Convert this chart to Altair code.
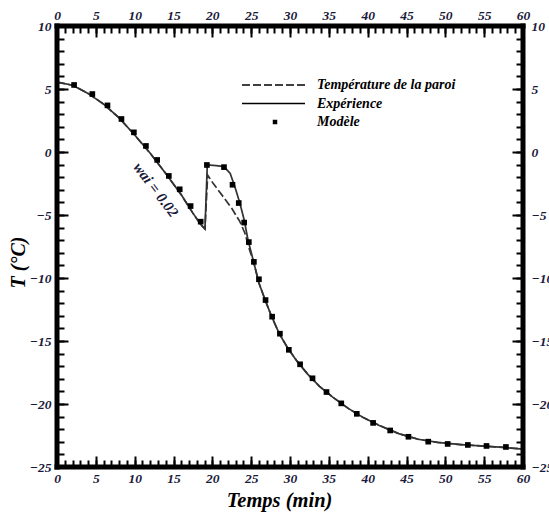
import altair as alt
import pandas as pd

# ---------------- data ----------------
exp_t = [0, 2, 4, 6, 8, 10, 12, 14, 16, 17.5, 18.5, 19.05, 19.35, 20.5, 21.5, 22.3, 22.9,
         23.55, 24.1, 24.6, 25.35, 26.0, 26.8, 27.6, 28.6, 29.7, 30.9, 32.3, 33.8, 35.5,
         37.5, 39.5, 41.5, 44, 46.5, 49, 52, 55, 57.5, 60]
exp_T = [5.55, 5.3, 4.65, 3.8, 2.7, 1.35, -0.1, -1.7, -3.4, -4.85, -5.75, -6.1, -1.03, -1.08,
         -1.16, -1.7, -2.75, -4.07, -5.4, -7.0, -8.8, -10.4, -11.75, -13.0, -14.4, -15.55,
         -16.6, -17.65, -18.6, -19.45, -20.35, -21.1, -21.7, -22.35, -22.8, -23.05, -23.22,
         -23.35, -23.45, -23.58]

paroi_t = [0, 2, 4, 6, 8, 10, 12, 14, 16, 17.5, 18.5, 19.05, 19.4, 20.1, 21.4, 22.5, 23.55,
           24.2, 24.8, 25.35, 26.0, 26.8, 27.6, 28.6, 29.7, 30.9, 32.3, 33.8, 35.5, 37.5,
           39.5, 41.5, 44, 46.5, 49, 52, 55, 57.5, 60]
paroi_T = [5.55, 5.3, 4.65, 3.8, 2.7, 1.35, -0.1, -1.7, -3.4, -4.85, -5.75, -6.1, -1.83, -2.49,
           -3.55, -4.47, -5.53, -6.45, -7.78, -8.8, -10.4, -11.75, -13.0, -14.4, -15.55, -16.6,
           -17.65, -18.6, -19.45, -20.35, -21.1, -21.7, -22.35, -22.8, -23.05, -23.22, -23.35,
           -23.45, -23.58]

mod_t = [2.2, 4.55, 6.5, 8.3, 9.9, 11.45, 12.9, 14.4, 15.8, 17.2, 18.5, 19.3, 21.5, 22.6,
         23.4, 24.1, 24.7, 25.35, 26.0, 26.85, 27.7, 28.7, 29.85, 31.3, 32.9, 34.7, 36.6,
         38.6, 40.7, 42.9, 45.25, 47.8, 50.3, 52.9, 55.3, 57.8]
mod_T = [5.32, 4.6, 3.7, 2.62, 1.56, 0.48, -0.63, -1.9, -2.96, -4.29, -5.53, -1.03, -1.2, -2.6,
         -4.05, -5.6, -7.15, -8.72, -10.1, -11.75, -13.07, -14.42, -15.7, -16.85, -17.96,
         -19.05, -19.95, -20.78, -21.5, -22.1, -22.6, -22.99, -23.17, -23.25, -23.33, -23.41]

series_names = ["Température de la paroi", "Expérience", "Modèle"]
note_text = ["wai = 0.02"]
note_t = [12.75]
note_T = [-3.0]

x_major = list(range(0, 61, 5))
x_minor = list(range(0, 61, 1))
y_major = list(range(-25, 11, 5))
y_minor = list(range(-25, 11, 1))

# ---------------- style ----------------
FONT = "Liberation Serif"
LBL = "#1a1a3a"
MAJ, MIN = 11, 7
W, H = 466, 441

df_exp = pd.DataFrame({"t": exp_t, "T": exp_T, "i": range(len(exp_t))})
df_par = pd.DataFrame({"t": paroi_t, "T": paroi_T, "i": range(len(paroi_t))})
df_mod = pd.DataFrame({"t": mod_t, "T": mod_T})
df_note = pd.DataFrame({"t": note_t, "T": note_T, "txt": note_text})
df_leg = pd.DataFrame({"s": series_names})
df_one = pd.DataFrame({"k": [0]})

xs = alt.Scale(domain=[0, 60], nice=False, zero=False)
ys = alt.Scale(domain=[-25, 10], nice=False, zero=False)


def ax(orient, values, size, labels, pad=5, **extra):
    kw = dict(orient=orient, values=values, tickSize=size, offset=-size, domain=False,
              grid=False, labels=labels, ticks=True, tickColor="black", tickWidth=2,
              labelFont=FONT, labelFontStyle="italic", labelFontWeight="bold",
              labelFontSize=13.5, labelColor=LBL, labelPadding=pad, format="d",
              labelFlush=False, labelOverlap=False, labelBound=False, title=None)
    kw.update(extra)
    return alt.Axis(**kw)


lines_exp = alt.Chart(df_exp).mark_line(color="#333333", strokeWidth=1.7).encode(
    x=alt.X("t:Q", scale=xs,
            axis=ax("bottom", x_major, MAJ, True, pad=4, title="Temps (min)",
                    titleFont=FONT, titleFontSize=20.5, titleFontStyle="italic",
                    titleFontWeight="bold", titleColor="black", titleX=222, titleY=50,
                    titleBaseline="alphabetic")),
    y=alt.Y("T:Q", scale=ys,
            axis=ax("left", y_major, MAJ, True, pad=6, title="T (°C)",
                    titleFont=FONT, titleFontSize=20, titleFontStyle="italic",
                    titleFontWeight="bold", titleColor="black", titleX=-50, titleY=236,
                    titleBaseline="middle", titleAngle=270)),
    order="i:Q",
)

lines_par = alt.Chart(df_par).mark_line(color="#333333", strokeWidth=1.7, strokeDash=[8, 3]).encode(
    x=alt.X("t:Q", scale=xs, axis=ax("top", x_minor, MIN, False)),
    y=alt.Y("T:Q", scale=ys, axis=ax("right", y_minor, MIN, False)),
    order="i:Q",
)

points = alt.Chart(df_mod).mark_point(shape="square", filled=True, color="black",
                                      size=32, opacity=1).encode(
    x=alt.X("t:Q", scale=xs, axis=ax("bottom", x_minor, MIN, False)),
    y=alt.Y("T:Q", scale=ys, axis=ax("left", y_minor, MIN, False)),
)

note = alt.Chart(df_note).mark_text(font=FONT, fontSize=15, fontStyle="italic",
                                    fontWeight="bold", angle=53, color=LBL,
                                    align="center", baseline="middle").encode(
    x=alt.X("t:Q", scale=xs, axis=ax("top", x_major, MAJ, True, pad=4)),
    y=alt.Y("T:Q", scale=ys, axis=ax("right", y_major, MAJ, True, pad=8, labelAlign="left")),
    text="txt:N",
)

# heavy plot frame (four thick rules along the plot edges)
def frame_rule(**enc):
    return alt.Chart(df_one).mark_rule(color="black", strokeWidth=5, strokeCap="square").encode(**enc)


frame = [
    frame_rule(x=alt.value(0), x2=alt.value(W), y=alt.value(0)),
    frame_rule(x=alt.value(0), x2=alt.value(W), y=alt.value(H)),
    frame_rule(y=alt.value(0), y2=alt.value(H), x=alt.value(0)),
    frame_rule(y=alt.value(0), y2=alt.value(H), x=alt.value(W)),
]

dash_path = ("M-12.8,0H-11.2M-10.6,0H-9M-8.4,0H-6.8M-6.2,0H-4.6M-4,0H-2.4M-1.8,0H-0.2")
line_path = "M-12.8,0H-0.2"
sq_path = "M-6.65,-0.3H-5.75M-6.65,0H-5.75M-6.65,0.3H-5.75M-12.8,0M-0.2,0"

legend_layer = alt.Chart(df_leg).mark_point(filled=False, color="black", opacity=1,
                                            clip=True).encode(
    x=alt.value(-200),
    y=alt.value(-200),
    shape=alt.Shape("s:N",
                    scale=alt.Scale(domain=series_names,
                                    range=[dash_path, line_path, sq_path]),
                    legend=alt.Legend(orient="none", legendX=242, legendY=52, title=None,
                                      symbolSize=100, symbolStrokeWidth=1.6,
                                      symbolStrokeColor="black", symbolFillColor="transparent",
                                      symbolOpacity=1, labelFont=FONT, labelFontSize=14,
                                      labelFontStyle="italic", labelFontWeight="bold",
                                      labelColor="black", rowPadding=4.5, padding=0,
                                      labelOffset=4, symbolOffset=0, labelLimit=400)),
)

chart = alt.layer(lines_exp, lines_par, points, note, *frame, legend_layer).resolve_axis(
    x="independent", y="independent"
).properties(
    width=W, height=H,
    autosize=alt.AutoSizeParams(type="none"),
    padding={"left": 57, "top": 26, "right": 26, "bottom": 50},
).configure_view(stroke="black", strokeWidth=6).configure(background="white")

chart.save("out.html", embed_options={"renderer": "svg", "actions": False})
